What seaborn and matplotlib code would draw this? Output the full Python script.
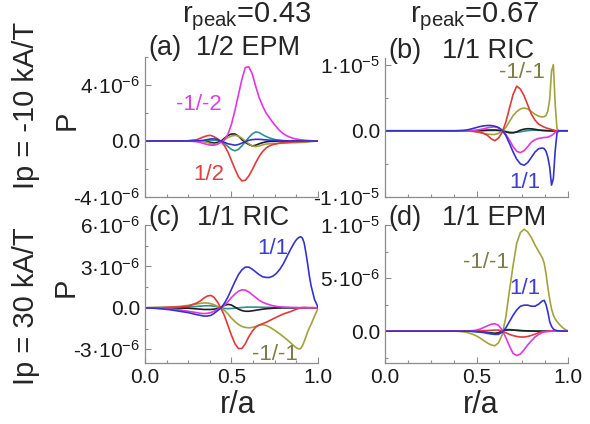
import numpy as np
import pandas as pd
import matplotlib
matplotlib.use("Agg")
import matplotlib.pyplot as plt
import seaborn as sns
from matplotlib.ticker import MultipleLocator, FuncFormatter, FormatStrFormatter

# ---------------------------------------------------------------------------
# Radial profiles of the power transfer P (values in units of 1e-6)
# ---------------------------------------------------------------------------
R = [0.00, 0.05, 0.10, 0.15, 0.20, 0.25, 0.30,
     0.32, 0.34, 0.36, 0.38, 0.40, 0.42, 0.44, 0.46, 0.48, 0.50,
     0.52, 0.54, 0.56, 0.58, 0.60, 0.62, 0.64, 0.66, 0.68, 0.70,
     0.72, 0.74, 0.76, 0.78, 0.80, 0.82, 0.84, 0.86,
     0.87, 0.88, 0.89, 0.90, 0.91, 0.92, 0.93, 0.94, 0.95,
     0.96, 0.98, 1.00]

# (a) Ip = -10 kA/T, 1/2 EPM
a_mag = [0, 0, 0, 0, 0, 0, -0.05,
         -0.1, -0.18, -0.25, -0.3, -0.3, -0.22, -0.1, 0.1, 0.5, 1.2,
         2.2, 3.3, 4.4, 5.25, 5.3, 4.8, 3.9, 3.1, 2.5, 2.0,
         1.65, 1.3, 1.0, 0.72, 0.52, 0.37, 0.26, 0.18,
         0.15, 0.13, 0.11, 0.09, 0.08, 0.06, 0.05, 0.04, 0.03,
         0.02, 0.01, 0.0]
a_red = [0, 0, 0, 0, 0, 0.02, 0.1,
         0.2, 0.3, 0.38, 0.4, 0.3, 0.15, -0.05, -0.35, -0.8, -1.4,
         -2.0, -2.55, -2.85, -2.8, -2.5, -2.05, -1.55, -1.1, -0.75, -0.5,
         -0.35, -0.25, -0.2, -0.15, -0.12, -0.1, -0.08, -0.06,
         -0.06, -0.05, -0.05, -0.04, -0.04, -0.03, -0.03, -0.02, -0.02,
         -0.01, 0.0, 0.0]
a_teal = [0, 0, 0, 0, 0, 0, 0,
          0.0, 0.02, 0.04, 0.05, 0.05, 0.05, -0.05, -0.2, -0.4, -0.6,
          -0.7, -0.6, -0.35, -0.05, 0.25, 0.5, 0.65, 0.6, 0.45, 0.32,
          0.22, 0.14, 0.08, 0.05, 0.02, 0.01, 0, 0,
          0, 0, 0, 0, 0, 0, 0, 0, 0,
          0, 0, 0]
a_black = [0, 0, 0, 0, 0, 0, 0,
           0.0, -0.02, -0.05, -0.1, -0.15, -0.1, 0.0, 0.2, 0.4, 0.5,
           0.5, 0.35, 0.1, -0.1, -0.25, -0.35, -0.3, -0.2, -0.12, -0.06,
           -0.03, -0.02, -0.01, 0, 0, 0, 0, 0,
           0, 0, 0, 0, 0, 0, 0, 0, 0,
           0, 0, 0]
a_olive = [0, 0, 0, 0, 0, 0, 0,
           -0.02, -0.05, -0.1, -0.2, -0.25, -0.2, -0.05, 0.1, 0.25, 0.35,
           0.4, 0.35, 0.2, 0.0, -0.2, -0.35, -0.4, -0.35, -0.28, -0.22,
           -0.2, -0.18, -0.17, -0.16, -0.15, -0.14, -0.13, -0.12,
           -0.12, -0.11, -0.11, -0.1, -0.1, -0.09, -0.08, -0.07, -0.06,
           -0.04, -0.02, 0.0]
a_blue = [0, 0, 0, 0, 0, 0, 0.02,
          0.03, 0.05, 0.1, 0.15, 0.15, 0.1, 0.0, -0.1, -0.2, -0.25,
          -0.3, -0.25, -0.15, -0.05, 0.05, 0.1, 0.12, 0.12, 0.1, 0.08,
          0.06, 0.05, 0.04, 0.03, 0.02, 0.02, 0.01, 0.01,
          0.01, 0, 0, 0, 0, 0, 0, 0, 0,
          0, 0, 0]

# (b) Ip = -10 kA/T, 1/1 RIC
b_olive = [0, 0, 0, 0, 0, 0, 0,
           0, 0, 0, 0, 0, 0, 0, -0.05, -0.1, -0.2,
           -0.3, -0.4, -0.5, -0.55, -0.55, -0.4, -0.08, 0.5, 1.4, 2.3,
           2.9, 3.3, 3.45, 3.3, 2.9, 2.5, 2.2, 2.1,
           2.15, 2.3, 3.0, 4.8, 9.0, 10.0, 4.0, 0.3, 0.0,
           0, 0, 0]
b_red = [0, 0, 0, 0, 0, 0, 0,
         0, 0, 0, 0, 0, 0, 0, 0.0, -0.05, -0.1,
         -0.2, -0.4, -0.7, -1.2, -1.5, -1.1, -0.25, 1.3, 3.4, 5.5,
         6.75, 6.3, 5.3, 3.9, 2.5, 1.6, 1.0, 0.7,
         0.55, 0.45, 0.35, 0.28, 0.2, 0.12, 0.05, 0.0, 0.0,
         0, 0, 0]
b_mag = [0, 0, 0, 0, 0, 0, 0,
         0, 0, 0, 0, 0, 0, 0, 0.02, 0.05, 0.1,
         0.2, 0.3, 0.45, 0.55, 0.6, 0.45, 0.1, -0.5, -1.4, -2.4,
         -3.1, -3.3, -3.0, -2.4, -1.7, -1.35, -1.15, -1.05,
         -1.0, -1.0, -0.95, -0.85, -0.7, -0.5, -0.25, -0.05, 0.0,
         0, 0, 0]
b_blue = [0, 0, 0, 0, 0, 0, 0,
          0, 0, 0, 0, 0.02, 0.05, 0.1, 0.2, 0.35, 0.5,
          0.65, 0.75, 0.8, 0.8, 0.7, 0.5, 0.1, -0.7, -1.9, -3.2,
          -4.3, -5.0, -5.2, -4.8, -4.0, -3.2, -2.7, -2.6,
          -2.7, -3.1, -4.0, -5.5, -8.2, -7.2, -3.0, -0.3, 0.0,
          0, 0, 0]
b_black = [0, 0, 0, 0, 0, 0, 0,
           0, 0, 0, 0, 0, 0, 0, 0, 0, 0.02,
           0.05, 0.08, 0.1, 0.12, 0.12, 0.08, 0.0, -0.15, -0.3, -0.3,
           -0.15, 0.1, 0.25, 0.32, 0.3, 0.22, 0.12, 0.06,
           0.04, 0.02, 0.01, 0, 0, 0, 0, 0, 0,
           0, 0, 0]
b_teal = [0, 0, 0, 0, 0, 0, 0,
          0, 0, 0, 0, 0, 0, 0, 0, 0, 0,
          0, 0.02, 0.04, 0.05, 0.05, 0.04, 0.0, -0.1, -0.2, -0.25,
          -0.22, -0.15, -0.05, 0.03, 0.08, 0.1, 0.08, 0.05,
          0.04, 0.03, 0.02, 0.01, 0, 0, 0, 0, 0,
          0, 0, 0]

# (c) Ip = 30 kA/T, 1/1 RIC
c_blue = [0, -0.03, -0.08, -0.15, -0.25, -0.35, -0.5,
          -0.55, -0.6, -0.6, -0.55, -0.4, -0.2, 0.0, 0.35, 0.8, 1.35,
          1.9, 2.4, 2.75, 2.95, 2.95, 2.8, 2.6, 2.4, 2.25, 2.2,
          2.2, 2.3, 2.5, 2.8, 3.2, 3.7, 4.2, 4.65,
          4.85, 5.0, 5.1, 5.15, 5.05, 4.7, 4.0, 3.2, 2.3,
          1.6, 0.6, 0.05]
c_mag = [0, -0.02, -0.05, -0.1, -0.15, -0.25, -0.35,
         -0.4, -0.42, -0.4, -0.35, -0.25, -0.1, 0.0, 0.2, 0.45, 0.75,
         1.0, 1.2, 1.3, 1.28, 1.15, 0.95, 0.75, 0.55, 0.4, 0.3,
         0.22, 0.15, 0.1, 0.07, 0.05, 0.04, 0.03, 0.02,
         0.02, 0.02, 0.01, 0.01, 0.01, 0.01, 0.01, 0.0, 0.0,
         0, 0, 0]
c_red = [0, 0.01, 0.02, 0.04, 0.06, 0.12, 0.35,
         0.5, 0.7, 0.85, 0.9, 0.75, 0.4, -0.05, -0.6, -1.3, -2.0,
         -2.6, -2.95, -2.95, -2.6, -2.1, -1.7, -1.4, -1.25, -1.15, -1.05,
         -0.93, -0.8, -0.68, -0.56, -0.45, -0.36, -0.28, -0.18,
         -0.13, -0.08, -0.04, 0.0, 0.02, 0.02, 0.02, 0.01, 0.01,
         0.01, 0, 0]
c_olive = [0, 0.01, 0.03, 0.06, 0.1, 0.18, 0.28,
           0.32, 0.35, 0.35, 0.3, 0.22, 0.1, 0.0, -0.2, -0.45, -0.75,
           -1.0, -1.2, -1.35, -1.42, -1.45, -1.42, -1.35, -1.25, -1.22, -1.28,
           -1.4, -1.55, -1.72, -1.9, -2.1, -2.3, -2.52, -2.75,
           -2.85, -2.93, -2.98, -2.95, -2.75, -2.45, -2.1, -1.75, -1.45,
           -1.2, -0.6, -0.05]
c_black = [0, 0, 0, -0.01, -0.02, -0.03, -0.08,
           -0.1, -0.12, -0.12, -0.12, -0.1, -0.05, 0.05, 0.18, 0.25, 0.2,
           0.05, -0.1, -0.2, -0.25, -0.25, -0.22, -0.18, -0.14, -0.1, -0.07,
           -0.05, -0.03, -0.02, -0.01, 0, 0, 0, 0,
           0, 0, 0, 0, 0, 0, 0, 0, 0,
           0, 0, 0]
c_teal = [0, 0, 0.01, 0.02, 0.04, 0.07, 0.1,
          0.12, 0.14, 0.15, 0.15, 0.12, 0.07, 0.0, -0.05, -0.06, -0.05,
          -0.03, 0.0, 0.02, 0.04, 0.05, 0.05, 0.05, 0.04, 0.04, 0.03,
          0.03, 0.02, 0.02, 0.01, 0.01, 0.01, 0, 0,
          0, 0, 0, 0, 0, 0, 0, 0, 0,
          0, 0, 0]

# (d) Ip = 30 kA/T, 1/1 EPM
d_olive = [0, 0, 0, 0, 0, 0, 0,
           0, 0, 0, 0, -0.02, -0.05, -0.1, -0.18, -0.3, -0.45,
           -0.65, -0.9, -1.12, -1.3, -1.38, -1.1, -0.35, 1.3, 3.8, 6.2,
           8.3, 9.3, 9.6, 9.35, 8.8, 8.1, 7.5, 6.9,
           6.4, 5.4, 4.1, 3.0, 2.1, 1.5, 1.15, 0.9, 0.7,
           0.5, 0.2, 0.02]
d_blue = [0, 0, 0, 0, 0, 0, 0,
          0, 0, 0, 0, 0, 0, 0, 0, -0.02, -0.03,
          -0.06, -0.1, -0.15, -0.22, -0.3, -0.3, -0.1, 0.3, 0.9, 1.5,
          2.0, 2.35, 2.45, 2.45, 2.35, 2.35, 2.55, 2.85,
          2.9, 2.5, 1.8, 0.9, 0.45, 0.2, 0.1, 0.05, 0.02,
          0.01, 0, 0]
d_mag = [0, 0, 0, 0, 0, 0, 0,
         0, 0, 0, 0, 0, 0, 0, 0.02, 0.05, 0.1,
         0.2, 0.35, 0.5, 0.65, 0.7, 0.55, 0.1, -0.6, -1.4, -2.1,
         -2.3, -2.15, -1.75, -1.3, -0.9, -0.55, -0.3, -0.12,
         -0.07, -0.04, -0.02, -0.01, 0, 0, 0, 0, 0,
         0, 0, 0]
d_red = [0, 0, 0, 0, 0, 0, 0,
         0, 0, 0, 0, 0, 0, 0, 0, 0, 0.01,
         0.02, 0.04, 0.06, 0.08, 0.1, 0.1, 0.0, -0.15, -0.3, -0.42,
         -0.5, -0.55, -0.55, -0.5, -0.4, -0.28, -0.15, -0.07,
         -0.05, -0.03, -0.02, -0.01, 0, 0, 0, 0, 0,
         0, 0, 0]
d_black = [0, 0, 0, 0, 0, 0, 0,
           0, 0, 0, 0, 0, 0, 0, 0, -0.01, -0.02,
           -0.05, -0.08, -0.12, -0.16, -0.2, -0.15, 0.0, 0.1, 0.12, 0.1,
           0.07, 0.05, 0.03, 0.02, 0.01, 0, 0, 0,
           0, 0, 0, 0, 0, 0, 0, 0, 0,
           0, 0, 0]
d_teal = [0, 0, 0, 0, 0, 0, 0,
          0, 0, 0, 0, 0, 0, 0, 0, -0.02, -0.05,
          -0.1, -0.15, -0.22, -0.28, -0.3, -0.22, 0.0, 0.15, 0.15, 0.12,
          0.09, 0.06, 0.04, 0.03, 0.02, 0.01, 0, 0,
          0, 0, 0, 0, 0, 0, 0, 0, 0,
          0, 0, 0]

DRAW_ORDER = ["teal", "black", "olive", "red", "magenta", "blue"]
PALETTE = {"magenta": "#e335e3", "red": "#e03a3a", "blue": "#3434cc",
           "olive": "#a3a23c", "teal": "#2f8f95", "black": "#1e1e1e"}


def panel_frame(series):
    rows = []
    for name, vals in series.items():
        rows.append(pd.DataFrame({"r": R, "P": np.asarray(vals) * 1e-6,
                                  "curve": name}))
    return pd.concat(rows, ignore_index=True)


panels = [
    dict(tag="(a)", mode="1/2 EPM", px=(145, 57, 318, 197),
         ylim=(-4e-6, 6e-6), major=4e-6, minor=2e-6, xlabels=False,
         title_y=48, mode_x=196,
         series={"magenta": a_mag, "red": a_red, "teal": a_teal,
                 "black": a_black, "olive": a_olive, "blue": a_blue},
         notes=[("-1/-2", 199, 104, "magenta"), ("1/2", 209, 174, "red")]),
    dict(tag="(b)", mode="1/1 RIC", px=(385, 58, 568, 197),
         ylim=(-1e-5, 1.1e-5), major=1e-5, minor=5e-6, xlabels=False,
         title_y=51, mode_x=442,
         series={"magenta": b_mag, "red": b_red, "teal": b_teal,
                 "black": b_black, "olive": b_olive, "blue": b_blue},
         notes=[("-1/-1", 522, 73, "olive_txt"), ("1/1", 525, 183, "blue")]),
    dict(tag="(c)", mode="1/1 RIC", px=(145, 225, 318, 363),
         ylim=(-4e-6, 6e-6), major=3e-6, minor=1.5e-6, xlabels=True,
         title_y=218, mode_x=197,
         series={"magenta": c_mag, "red": c_red, "teal": c_teal,
                 "black": c_black, "olive": c_olive, "blue": c_blue},
         notes=[("1/1", 273, 249, "blue"), ("-1/-1", 275, 354, "olive_txt")]),
    dict(tag="(d)", mode="1/1 EPM", px=(385, 225, 568, 363),
         ylim=(-3e-6, 1e-5), major=5e-6, minor=2.5e-6, xlabels=True,
         title_y=218, mode_x=442,
         series={"magenta": d_mag, "red": d_red, "teal": d_teal,
                 "black": d_black, "olive": d_olive, "blue": d_blue},
         notes=[("-1/-1", 486, 262, "olive_txt"), ("1/1", 525, 289, "blue")]),
]

TEXT_COLORS = {"magenta": "#e040e0", "red": "#e04040", "blue": "#3c3cd8",
               "olive_txt": "#7d7d4a"}

sns.set_theme(style="white")
plt.rcParams["font.family"] = ["Liberation Sans", "DejaVu Sans"]
plt.rcParams["mathtext.fontset"] = "custom"
plt.rcParams["mathtext.rm"] = "Liberation Sans"
plt.rcParams["mathtext.it"] = "Liberation Sans:italic"
plt.rcParams["mathtext.default"] = "regular"

W, H = 590, 424
fig = plt.figure(figsize=(W / 100, H / 100), dpi=100)
fig.patch.set_facecolor("white")


def fx(px):
    return px / W


def fy(py):
    return 1 - py / H


def sci_label(v, pos):
    if abs(v) < 1e-15:
        return "0.0"
    e = int(np.floor(np.log10(abs(v)) + 1e-9))
    m = v / 10 ** e
    return f"{m:.0f}·10$^{{{e}}}$"


SPINE = "#8c8c8c"

for p in panels:
    x0, y0, x1, y1 = p["px"]
    ax = fig.add_axes([fx(x0), fy(y1), (x1 - x0) / W, (y1 - y0) / H])
    df = panel_frame(p["series"])
    sns.lineplot(data=df, x="r", y="P", hue="curve", hue_order=DRAW_ORDER,
                 palette=PALETTE, legend=False, errorbar=None, sort=False,
                 linewidth=1.2, ax=ax)
    ax.set_xlim(0, 1)
    ax.set_ylim(*p["ylim"])
    ax.set_xlabel("")
    ax.set_ylabel("")
    ax.xaxis.set_major_locator(MultipleLocator(0.5))
    ax.xaxis.set_minor_locator(MultipleLocator(0.125))
    ax.xaxis.set_major_formatter(FormatStrFormatter("%.1f"))
    ax.yaxis.set_major_locator(MultipleLocator(p["major"]))
    ax.yaxis.set_minor_locator(MultipleLocator(p["minor"]))
    ax.yaxis.set_major_formatter(FuncFormatter(sci_label))
    for s in ("top", "right"):
        ax.spines[s].set_visible(False)
    for s in ("left", "bottom"):
        ax.spines[s].set_color(SPINE)
        ax.spines[s].set_linewidth(0.9)
    ax.tick_params(which="both", direction="in", color=SPINE, width=0.8,
                   bottom=True, left=True, labelsize=15, pad=3.5,
                   labelcolor="#1a1a1a")
    ax.tick_params(which="major", length=4)
    ax.tick_params(which="minor", length=2.5)
    if not p["xlabels"]:
        ax.tick_params(axis="x", labelbottom=False)
    ax.grid(False)

    fig.text(fx(x0 + 3), fy(p["title_y"]), p["tag"], fontsize=19.5,
             ha="left", va="center")
    fig.text(fx(p["mode_x"]), fy(p["title_y"]), p["mode"], fontsize=19.5,
             ha="left", va="center")
    for txt, tx, ty, col in p["notes"]:
        fig.text(fx(tx), fy(ty), txt, fontsize=16, ha="center", va="center",
                 color=TEXT_COLORS[col])

# column headers
fig.text(fx(182), fy(17), r"r$_{peak}$=0.43", fontsize=21, ha="left",
         va="center")
fig.text(fx(410), fy(17), r"r$_{peak}$=0.67", fontsize=21, ha="left",
         va="center")

# row labels
fig.text(fx(26), fy(105), "Ip = -10 kA/T", fontsize=21, rotation=90,
         ha="center", va="center")
fig.text(fx(26), fy(306), "Ip = 30 kA/T", fontsize=21, rotation=90,
         ha="center", va="center")

# axis titles
fig.text(fx(67), fy(120), "P", fontsize=21, rotation=90, ha="center",
         va="center")
fig.text(fx(66), fy(287), "P", fontsize=21, rotation=90, ha="center",
         va="center")
fig.text(fx(238), fy(405), "r/a", fontsize=22, ha="center", va="center")
fig.text(fx(481), fy(405), "r/a", fontsize=22, ha="center", va="center")

fig.savefig("out.png", dpi=100, facecolor="white")
